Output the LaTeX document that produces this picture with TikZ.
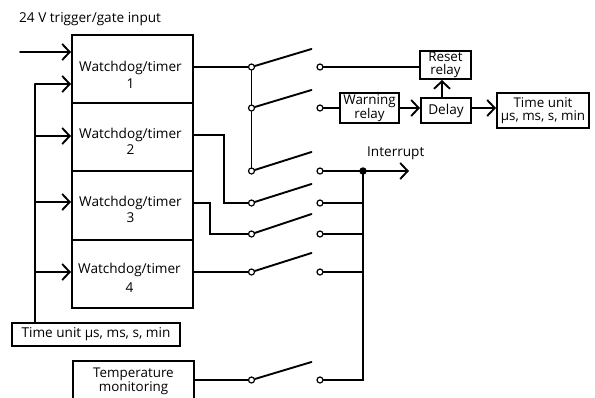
\documentclass[tikz,border=0pt]{standalone}
\usepackage{fontspec}
\setmainfont{Open Sans}
\usetikzlibrary{arrows.meta}
\tikzset{
  wire/.style={line width=1.9pt,line cap=round,line join=miter},
  arr/.style={wire,-{Straight Barb[length=7.5pt,width=16pt,line width=1.9pt]}},
  box/.style={draw,line width=2pt,rectangle,inner sep=0pt,align=center,anchor=north west,font=\fontsize{13.6}{15}\selectfont},
  tight/.style={font=\fontsize{13.4}{12.5}\selectfont},
  wtext/.style={inner sep=0pt,align=center,font=\fontsize{13.6}{16.5}\selectfont},
  contact/.style={circle,draw,fill=white,line width=1.2pt,minimum size=6pt,inner sep=0pt},
  plain/.style={inner sep=0pt,font=\fontsize{13.6}{15}\selectfont,anchor=west},
}
\begin{document}
\begin{tikzpicture}[x=1pt,y=-1pt]
\clip (0,0) rectangle (595,397);
% input label
\node[plain] (trig) at (19,19) {24 V trigger/gate input};
\coordinate (inA) at (20,52);
% watchdog blocks
\node[box,minimum width=121pt,minimum height=68pt] (w1) at (71,34) {};
\node[box,minimum width=121pt,minimum height=68pt] (w2) at (71,102) {};
\node[box,minimum width=121pt,minimum height=69pt] (w3) at (71,170) {};
\node[box,minimum width=121pt,minimum height=68pt] (w4) at (71,239) {};
\node[wtext] (w1t) at ([shift={(-2,6)}]w1.center) {Watchdog/timer\\1};
\node[wtext] (w2t) at ([shift={(-2,4.5)}]w2.center) {Watchdog/timer\\2};
\node[wtext] (w3t) at ([shift={(-2,4)}]w3.center) {Watchdog/timer\\3};
\node[wtext,font=\fontsize{13.6}{19}\selectfont] (w4t) at ([shift={(-3,4)}]w4.center) {Watchdog/timer\\4};
\node[box,minimum width=168pt,minimum height=23pt] (tu) at (11,322) {Time unit µs, ms, s, min};
\node[box,tight,minimum width=121pt,minimum height=40pt] (temp) at (72,360) {Temperature\\monitoring};
% right boxes
\node[box,tight,minimum width=51pt,minimum height=28pt] (reset) at (419,50) {Reset\\relay};
\node[box,tight,minimum width=59pt,minimum height=30pt] (warn) at (339,92) {Warning\\relay};
\node[box,minimum width=50pt,minimum height=25pt] (delay) at (420,97) {Delay};
\node[box,tight,minimum width=92pt,minimum height=35pt] (tu2) at (496,92) {Time unit\\µs, ms, s, min};
\node[plain] (intr) at (367,153) {Interrupt};
% contacts
\foreach \n/\y/\e in {a/67/49,b/108/90,c/171/152,d/203/184,e/234/214,f/272/253,g/380/362}{
  \node[contact] (l\n) at (251.5,\y) {};
  \node[contact] (r\n) at (320,\y) {};
  \coordinate (e\n) at (311.5,\e);
  \draw[wire] (l\n) -- (e\n);
}
% bus
\coordinate (bus1) at (35,84);
\coordinate (bus2) at (35,136);
\coordinate (bus3) at (35,202);
\coordinate (bus4) at (35,272);
\coordinate (bus5) at (35,322);
\draw[wire] (bus1) -- (bus5);
\draw[arr] (inA) -- (inA -| w1.west);
\foreach \i in {1,2,3,4}{
  \draw[arr] (bus\i) -- (bus\i -| w1.west);
}
% outputs from blocks
\draw[wire] (w1.east |- la) -- (la);
\draw[wire] (la) -- (lb);
\draw[wire] (lb) -- (lc);
\coordinate (k2a) at (224,135);
\coordinate (k3a) at (210,203);
\draw[wire] (w2.east |- k2a) -- (k2a) -- (k2a |- ld) -- (ld);
\draw[wire] (w3.east |- k3a) -- (k3a) -- (k3a |- le) -- (le);
\draw[wire] (w4.east |- lf) -- (lf);
\draw[wire] (temp.east |- lg) -- (lg);
% right side
\draw[wire] (ra) -- (ra -| reset.west);
\draw[wire] (rb) -- (rb -| warn.west);
\draw[arr] (warn.east |- rb) -- (rb -| delay.west);
\coordinate (dtop) at (442,97);
\draw[arr] (dtop) -- (dtop |- reset.south);
\draw[arr] (delay.east |- rb) -- (rb -| tu2.west);
\coordinate (out) at (409,171);
\coordinate (j) at (363,171);
\draw[arr] (rc) -- (out);
\draw[wire] (j) -- (j |- rg) -- (rg);
\draw[wire] (rd) -- (rd -| j);
\draw[wire] (re) -- (re -| j);
\draw[wire] (rf) -- (rf -| j);
\node[circle,fill=black,minimum size=7.5pt,inner sep=0pt] (jd) at (j) {};
\end{tikzpicture}
\end{document}
